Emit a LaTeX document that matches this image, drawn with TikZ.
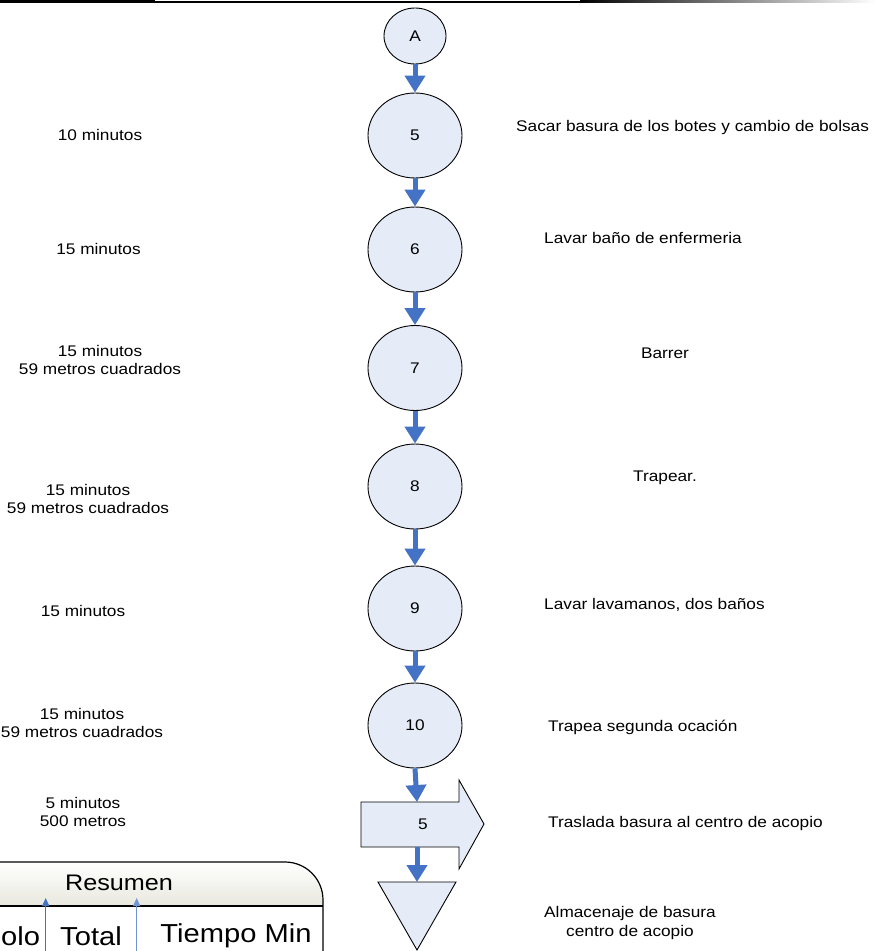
\documentclass[tikz,border=0pt]{standalone}
\usepackage{fontspec}
\setmainfont{Liberation Sans}[FakeStretch=1.12]
\usetikzlibrary{shapes.geometric,arrows.meta}
\definecolor{stepfill}{RGB}{230,236,247}
\definecolor{flowblue}{RGB}{68,114,196}
\definecolor{hdrgray}{RGB}{232,232,222}
\tikzset{
  opnode/.style={ellipse,draw=black,line width=0.9pt,fill=stepfill,inner sep=0pt,
    minimum width=94pt,minimum height=85pt,font=\fontsize{15.4}{18.5}\selectfont},
  flow/.style={draw=flowblue,line width=5pt,-{Triangle[width=20pt,length=17pt]}},
  lbl/.style={inner sep=0pt,align=center,font=\fontsize{15.4}{18.5}\selectfont},
  colsep/.style={draw=flowblue,line width=1pt,-{Triangle[width=7pt,length=8pt]}},
  shapeline/.style={draw=black,line width=0.9pt,fill=stepfill}
}
\begin{document}
\begin{tikzpicture}[x=1pt,y=-1pt]
\useasboundingbox (0,0) rectangle (879,951);
\clip (0,0) rectangle (879,951);

% rule along the top edge
\fill[black] (0,0) rectangle (155,3);
\fill[black] (155,0.5) rectangle (580,2.5);
\shade[left color=black,right color=white] (580,0.5) rectangle (875,2.5);

% process chain
\node[opnode,minimum width=62pt,minimum height=56pt] (A) at (415,36) {A};
\node[opnode] (c5) at (415,135.5) {5};
\node[opnode] (c6) at (415,249.5) {6};
\node[opnode] (c7) at (415,368) {7};
\node[opnode] (c8) at (415,486.5) {8};
\node[opnode] (c9) at (415,608.5) {9};
\node[opnode] (c10) at (415,725.5) {10};

% transport arrow
\draw[shapeline] (361,802) -- (459,802) -- (459,780) -- (484,824) -- (459,869)
  -- (459,847) -- (361,847) -- cycle;
\node[lbl] (t5) at (423,824) {5};
\coordinate (tin) at (417,802);
\coordinate (tout) at (417,847);

% storage triangle
\draw[shapeline] (378,882) -- (456,882) -- (417,950) -- cycle;
\coordinate (store) at (417,882);

\draw[flow] (A.south) -- (c5.north);
\draw[flow] (c5.south) -- (c6.north);
\draw[flow] (c6.south) -- (c7.north);
\draw[flow] (c7.south) -- (c8.north);
\draw[flow] (c8.south) -- (c9.north);
\draw[flow] (c9.south) -- (c10.north);
\draw[flow] (c10.south) -- (tin);
\draw[flow] (tout) -- (store);

% times and distances
\node[lbl] (l5) at (100,135) {10 minutos};
\node[lbl] (l6) at (98.5,249) {15 minutos};
\node[lbl] (l7) at (100,360) {15 minutos\\59 metros cuadrados};
\node[lbl] (l8) at (88,499) {15 minutos\\59 metros cuadrados};
\node[lbl] (l9) at (83,611) {15 minutos};
\node[lbl] (l10) at (82,723) {15 minutos\\59 metros cuadrados};
\node[lbl] (lt) at (83,812) {5 minutos\\500 metros};

% activity descriptions
\node[lbl,anchor=west] (r5) at (516,128) {Sacar basura de los botes y cambio de bolsas};
\node[lbl,anchor=west] (r6) at (544,238) {Lavar baño de enfermeria};
\node[lbl] (r7) at (665,353) {Barrer};
\node[lbl] (r8) at (665,478) {Trapear.};
\node[lbl,anchor=west] (r9) at (544,605) {Lavar lavamanos, dos baños};
\node[lbl,anchor=west] (r10) at (548,727) {Trapea segunda ocación};
\node[lbl,anchor=west] (rt) at (548,824) {Traslada basura al centro de acopio};
\node[lbl] (rs) at (630,923) {Almacenaje de basura\\centro de acopio};

% summary table
\shade[top color=white,bottom color=hdrgray] (-10,906) -- (-10,862) -- (285,862)
  .. controls (306,862) and (323,879) .. (323,900) -- (323,906) -- cycle;
\fill[white] (-10,906) rectangle (323,960);
\draw[black,line width=1.2pt] (-10,862) -- (285,862)
  .. controls (306,862) and (323,879) .. (323,900) -- (323,960);
\draw[black,line width=1.2pt] (-10,906) -- (323,906);
\node[inner sep=0pt,font=\fontsize{22.5}{26}\selectfont] (res) at (119,883) {Resumen};
\coordinate (s1b) at (45.7,960);
\coordinate (s1t) at (45.7,898);
\coordinate (s2b) at (136.7,960);
\coordinate (s2t) at (136.7,898);
\draw[colsep] (s1b) -- (s1t);
\draw[colsep,draw=flowblue!75] (s2b) -- (s2t);
\node[inner sep=0pt,anchor=west,font=\fontsize{26}{30}\selectfont] (hsym) at (1,936) {olo};
\node[inner sep=0pt,font=\fontsize{26}{30}\selectfont] (htot) at (91,936) {Total};
\node[inner sep=0pt,font=\fontsize{26}{30}\selectfont] (htime) at (236,936) {Tiempo Min};
\end{tikzpicture}
\end{document}
